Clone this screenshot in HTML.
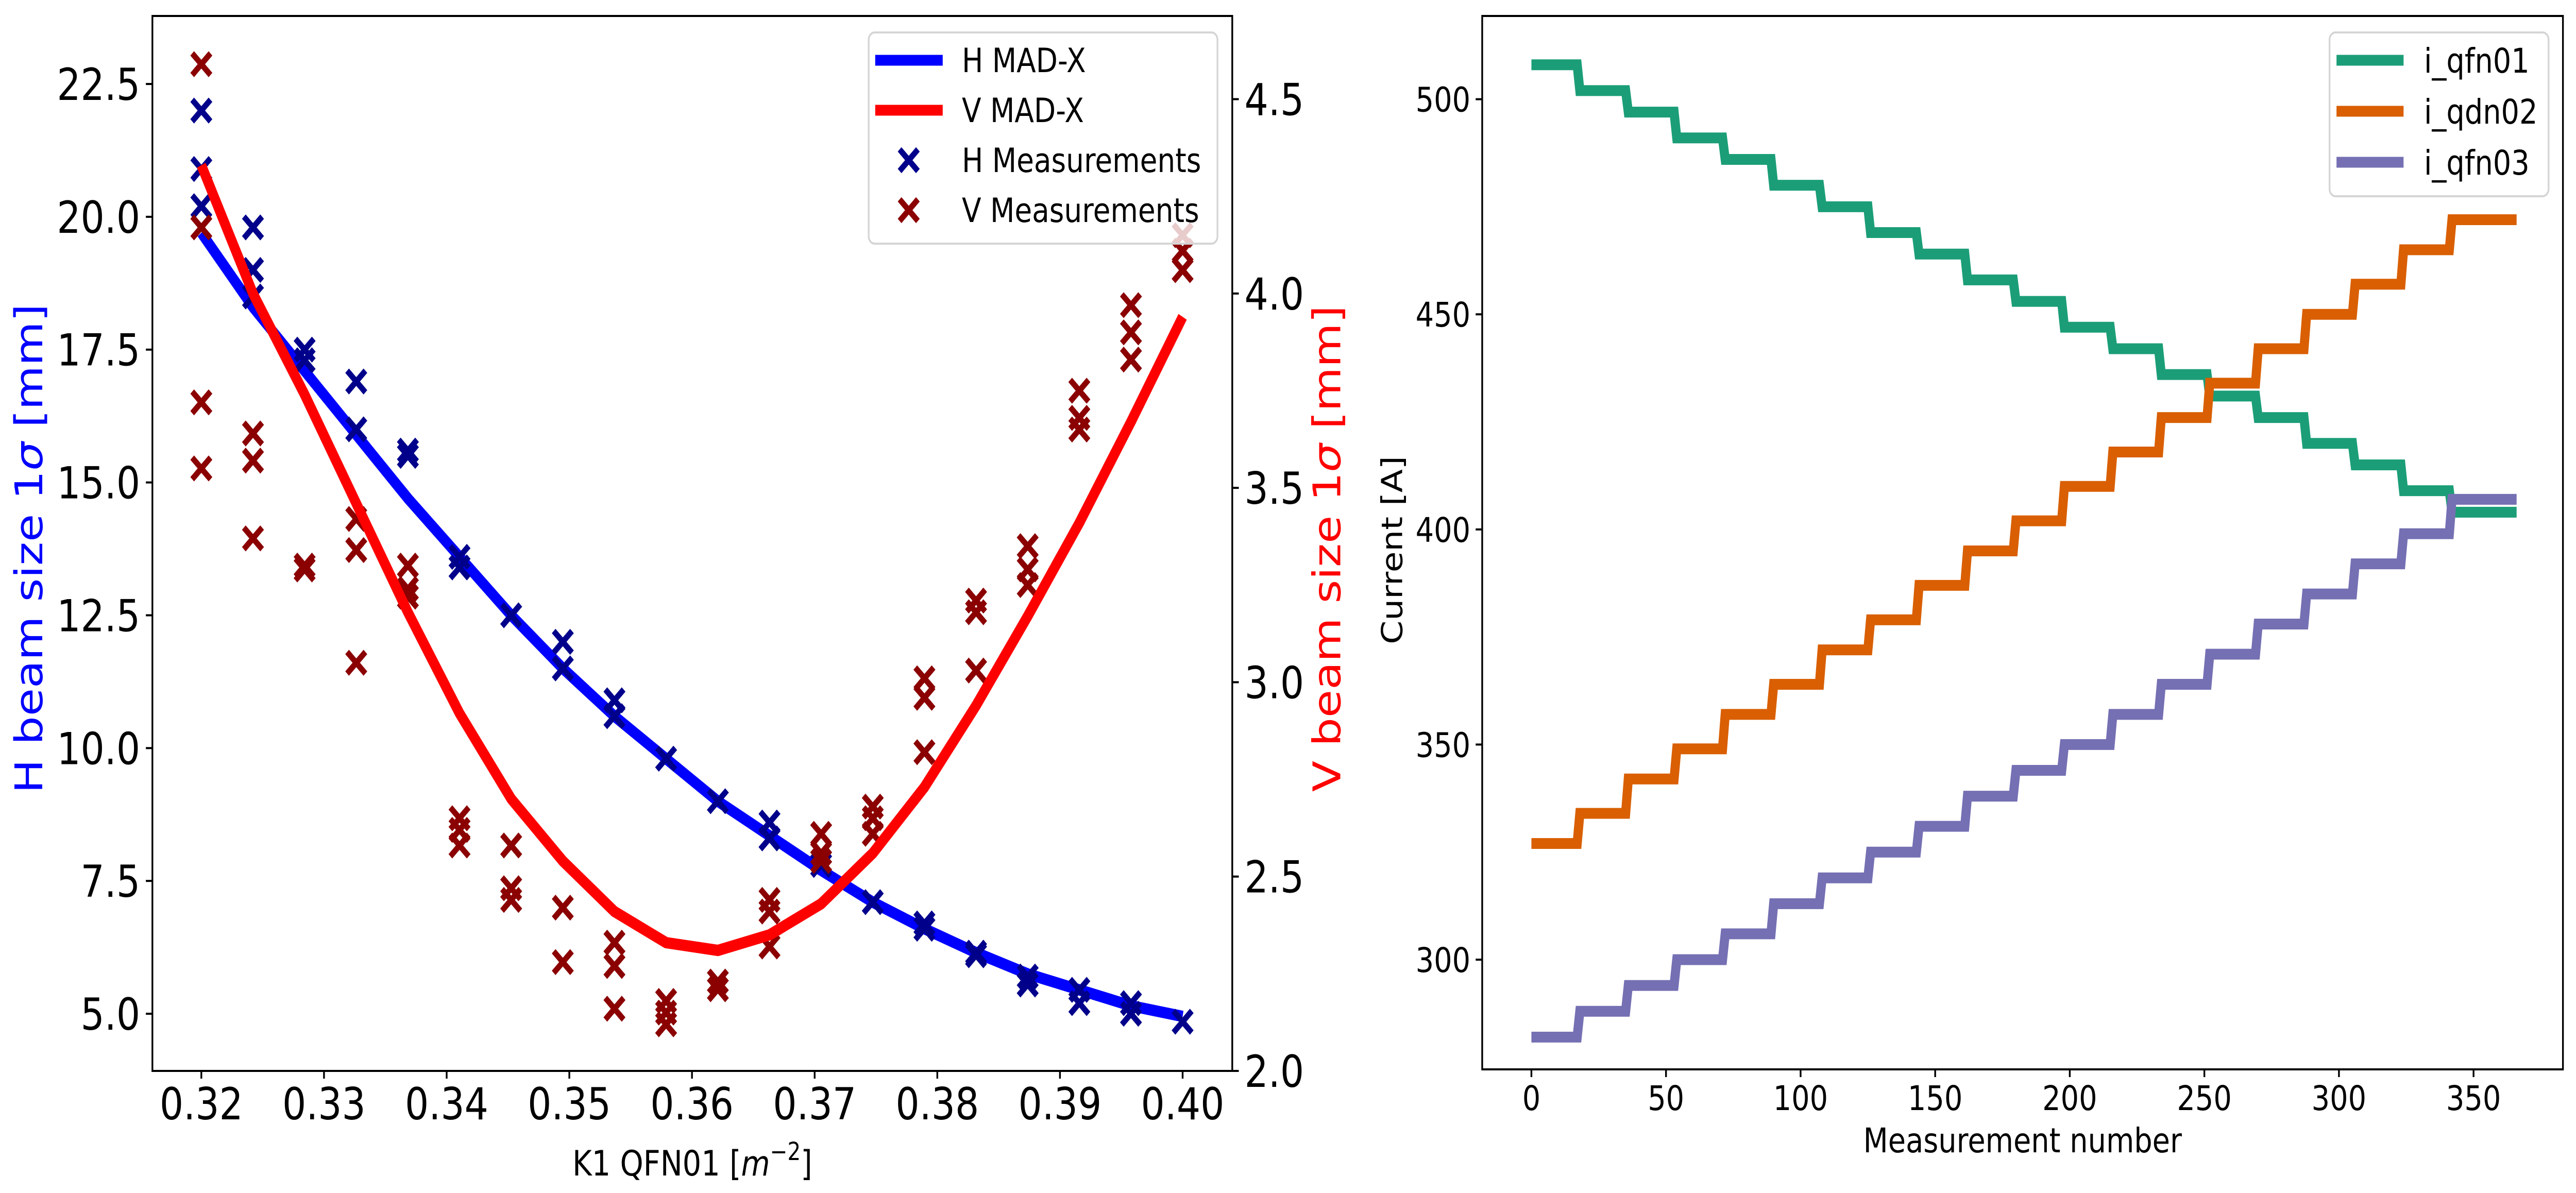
<!DOCTYPE html>
<html><head><meta charset="utf-8"><style>
html,body{margin:0;padding:0;background:#fff;width:100%;height:100%;overflow:hidden;}
svg{display:block;position:absolute;left:0;top:0;width:100vw;height:100vh;font-family:"DejaVu Sans","Liberation Sans",sans-serif;}
</style></head><body>
<svg id="fig" xmlns="http://www.w3.org/2000/svg" viewBox="0 0 5916 2316" preserveAspectRatio="none">
<rect x="0" y="0" width="5916" height="2316" fill="#fff"/>
<g id="left"></g>
<g id="right"></g>
</svg>
<script>
// ---- Left chart data ----
const k1Values = [0.32,0.32421,0.32842,0.33263,0.33684,0.34105,0.34526,0.34947,0.35368,0.35789,0.36211,0.36632,0.37053,0.37474,0.37895,0.38316,0.38737,0.39158,0.39579,0.40];
const hMadx = [19.7,18.3,17.1,15.9,14.7,13.6,12.5,11.5,10.6,9.8,9.0,8.35,7.7,7.1,6.6,6.15,5.75,5.45,5.15,4.95];
const vMadx = [4.33,4.0,3.74,3.46,3.18,2.92,2.70,2.54,2.41,2.33,2.31,2.35,2.43,2.56,2.73,2.94,3.17,3.41,3.67,3.94];
const hMeas = [[22.0,20.9,20.2],[19.8,19.0,18.5],[17.5,17.3],[16.9,16.0],[15.6,15.5],[13.6,13.4],[12.5],[12.0,11.5],[10.9,10.6],[9.8],[9.0],[8.6,8.3],[7.8],[7.1],[6.7,6.6],[6.15,6.1],[5.7,5.55],[5.45,5.2],[5.2,5.0],[4.85]];
const vMeas = [[4.59,4.17,3.72,3.55],[3.64,3.57,3.37],[3.30,3.29],[3.42,3.34,3.05],[3.30,3.24,3.22],[2.65,2.62,2.58],[2.58,2.47,2.44],[2.42,2.28],[2.33,2.27,2.16],[2.18,2.15,2.12],[2.23,2.21],[2.44,2.41,2.32],[2.61,2.56,2.54],[2.68,2.65,2.61],[3.01,2.96,2.82],[3.21,3.18,3.03],[3.35,3.29,3.25],[3.75,3.68,3.65],[3.97,3.90,3.83],[4.15,4.11,4.06]];
const xTicksL = [0.32,0.33,0.34,0.35,0.36,0.37,0.38,0.39,0.40];
const xTickLabelsL = ["0.32","0.33","0.34","0.35","0.36","0.37","0.38","0.39","0.40"];
const yTicksH = [5,7.5,10,12.5,15,17.5,20,22.5];
const yTickLabelsH = ["5.0","7.5","10.0","12.5","15.0","17.5","20.0","22.5"];
const yTicksV = [2.0,2.5,3.0,3.5,4.0,4.5];
const yTickLabelsV = ["2.0","2.5","3.0","3.5","4.0","4.5"];
// ---- Right chart data ----
const stepLen = 18;
const lastX = 366;
const qfn01 = [508,502,497,491,486,480,475,469,464,458,453,447,442,436,431,426,420,415,409,404];
const qdn02 = [327,334,342,349,357,364,372,379,387,395,402,410,418,426,434,442,450,457,465,472];
const qfn03 = [282,288,294,300,306,313,319,325,331,338,344,350,357,364,371,378,385,392,399,407];
const xTicksR = [0,50,100,150,200,250,300,350];
const yTicksR = [300,350,400,450,500];

const NS="http://www.w3.org/2000/svg";
function mk(parent,tag,attrs,text){const e=document.createElementNS(NS,tag);for(const k in attrs)e.setAttribute(k,attrs[k]);if(text!==undefined)e.textContent=text;parent.appendChild(e);return e;}

const L={x0:350,x1:2830,y0:31,y1:2079};
const xL=v=>462.4+(v-0.32)*28170;
const yH=v=>1968-(v-5)*103.14;
const yV=v=>2079-(v-2.0)*754.6;
const gl=document.getElementById('left');

function xMarker(g,cx,cy,color,name){
  const p=mk(g,'path',{d:`M${cx-21},${cy-21}L${cx+21},${cy+21}M${cx-21},${cy+21}L${cx+21},${cy-21}`,stroke:color,'stroke-width':12,fill:'none'});
  
  
}

let d='';hMadx.forEach((v,i)=>{d+=(i?'L':'M')+xL(k1Values[i])+','+yH(v);});
const hl=mk(gl,'path',{d:d,stroke:'#0000ff','stroke-width':22,fill:'none','stroke-linejoin':'round'});


d='';vMadx.forEach((v,i)=>{d+=(i?'L':'M')+xL(k1Values[i])+','+yV(v);});
hMeas.forEach((arr,i)=>arr.forEach(v=>xMarker(gl,xL(k1Values[i]),yH(v),'#00008b','h-measurement')));
vMeas.forEach((arr,i)=>arr.forEach(v=>xMarker(gl,xL(k1Values[i]),yV(v),'#8b0000','v-measurement')));
const vl=mk(gl,'path',{d:d,stroke:'#ff0000','stroke-width':22,fill:'none','stroke-linejoin':'round'});



const fl=mk(gl,'rect',{x:L.x0,y:L.y0,width:L.x1-L.x0,height:L.y1-L.y0,fill:'none',stroke:'#000','stroke-width':4});


xTicksL.forEach((v,i)=>{
  const x=xL(v);
  mk(gl,'line',{x1:x,y1:L.y1,x2:x,y2:L.y1+15,stroke:'#000','stroke-width':4});
  const t=mk(gl,'text',{x:x,y:2173,'font-size':86,'text-anchor':'middle'},xTickLabelsL[i]);
  
  
});
yTicksH.forEach((v,i)=>{
  const y=yH(v);
  mk(gl,'line',{x1:L.x0-15,y1:y,x2:L.x0,y2:y,stroke:'#000','stroke-width':4});
  const t=mk(gl,'text',{x:322,y:y+31,'font-size':86,'text-anchor':'end'},yTickLabelsH[i]);
  
  
});
yTicksV.forEach((v,i)=>{
  const y=yV(v);
  mk(gl,'line',{x1:L.x1,y1:y,x2:L.x1+15,y2:y,stroke:'#000','stroke-width':4});
  const t=mk(gl,'text',{x:2858,y:y+31,'font-size':86,'text-anchor':'start'},yTickLabelsV[i]);
  
  
});
let t=mk(gl,'text',{x:1590,y:2282,'font-size':68,'text-anchor':'middle'});
t.innerHTML='K1 QFN01 [<tspan font-style="italic">m</tspan><tspan dy="-30" font-size="48">−2</tspan><tspan dy="30">]</tspan>';


t=mk(gl,'text',{x:0,y:0,'font-size':88,'text-anchor':'middle',fill:'#0000ff',transform:'translate(97,1065) rotate(-90)'});
t.innerHTML='H beam size 1<tspan font-style="italic">σ</tspan> [mm]';


t=mk(gl,'text',{x:0,y:0,'font-size':88,'text-anchor':'middle',fill:'#ff0000',transform:'translate(3078,1065) rotate(-90)'});
t.innerHTML='V beam size 1<tspan font-style="italic">σ</tspan> [mm]';



const lg=mk(gl,'g',{});


mk(lg,'rect',{x:1995,y:63,width:801,height:410,rx:14,fill:'#fff','fill-opacity':0.8,stroke:'#d5d5d5','stroke-width':4});
const legL=[['H MAD-X','line','#0000ff'],['V MAD-X','line','#ff0000'],['H Measurements','x','#00008b'],['V Measurements','x','#8b0000']];
legL.forEach((e,i)=>{
  const y=117+i*97;
  if(e[1]==='line') mk(lg,'line',{x1:2010,y1:y,x2:2165,y2:y,stroke:e[2],'stroke-width':21});
  else xMarker(lg,2087,y,e[2],'legend-marker');
  const tt=mk(lg,'text',{x:2209,y:y+23,'font-size':65},e[0]);
  
  
});

const R={x0:3404,x1:5886,y0:31,y1:2076};
const xR=v=>3517+v*6.182;
const yR=v=>1863-(v-300)*8.352;
const gr=document.getElementById('right');
function stepPath(levels){
  let pts=[];
  levels.forEach((v,k)=>{
    const a=k*stepLen, b=(k===levels.length-1)?lastX:(k+1)*stepLen-1;
    pts.push([a,v]);pts.push([b,v]);
  });
  return pts.map((p,i)=>(i?'L':'M')+xR(p[0])+','+yR(p[1])).join('');
}
[[qfn01,'#1b9e77','i_qfn01'],[qdn02,'#d95f02','i_qdn02'],[qfn03,'#7570b3','i_qfn03']].forEach(s=>{
  const p=mk(gr,'path',{d:stepPath(s[0]),stroke:s[1],'stroke-width':21,fill:'none','stroke-linejoin':'miter'});
  
  
});
const fr=mk(gr,'rect',{x:R.x0,y:R.y0,width:R.x1-R.x0,height:R.y1-R.y0,fill:'none',stroke:'#000','stroke-width':4});


xTicksR.forEach(v=>{
  const x=xR(v);
  mk(gr,'line',{x1:x,y1:R.y1,x2:x,y2:R.y1+15,stroke:'#000','stroke-width':4});
  const tt=mk(gr,'text',{x:x,y:2155,'font-size':66,'text-anchor':'middle'},String(v));
  
  
});
yTicksR.forEach(v=>{
  const y=yR(v);
  mk(gr,'line',{x1:R.x0-15,y1:y,x2:R.x0,y2:y,stroke:'#000','stroke-width':4});
  const tt=mk(gr,'text',{x:3377,y:y+24,'font-size':66,'text-anchor':'end'},String(v));
  
  
});
t=mk(gr,'text',{x:4645,y:2237,'font-size':66,'text-anchor':'middle'},'Measurement number');


t=mk(gr,'text',{x:0,y:0,'font-size':66,'text-anchor':'middle',transform:'translate(3220,1068) rotate(-90)'},'Current [A]');


const rg=mk(gr,'g',{});


mk(rg,'rect',{x:5350,y:63,width:503,height:318,rx:14,fill:'#fff','fill-opacity':0.8,stroke:'#d5d5d5','stroke-width':4});
[['i_qfn01','#1b9e77'],['i_qdn02','#d95f02'],['i_qfn03','#7570b3']].forEach((e,i)=>{
  const y=117+i*99;
  mk(rg,'line',{x1:5366,y1:y,x2:5520,y2:y,stroke:e[1],'stroke-width':21});
  const tt=mk(rg,'text',{x:5567,y:y+24,'font-size':66},e[0]);
  
  
});
</script>
</body></html>
